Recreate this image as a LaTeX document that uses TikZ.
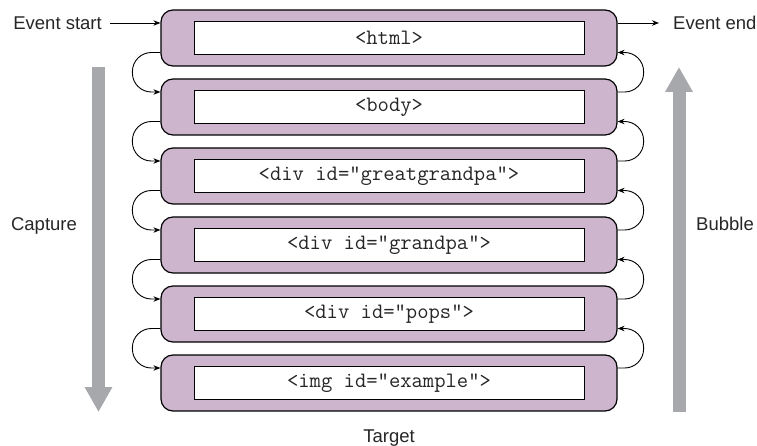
\documentclass[tikz,border=0pt]{standalone}
\usepackage{fontspec}
\setsansfont{Liberation Sans}
\usepackage{tikz}
\usetikzlibrary{arrows.meta, positioning, calc}

\definecolor{boxpurple}{RGB}{206,181,206}
\definecolor{flowgrey}{RGB}{166,168,171}

\begin{document}
\begin{tikzpicture}[x=1pt, y=-1pt, node distance=69pt,
	elem/.style={draw, line width=1.2pt, fill=boxpurple, rounded corners=12pt, minimum width=456pt, minimum height=56pt},
	tag/.style={draw, line width=1pt, fill=white, minimum width=390pt, minimum height=33pt, inner sep=0pt, text=black!85, font=\ttfamily\fontsize{22}{23}\selectfont},
	label/.style={inner sep=8pt, text=black!85, font=\sffamily\fontsize{18.5}{20}\selectfont},
	post/.style={->, line width=0.9pt, >={Stealth[length=7pt, width=5.5pt]}},
	flow/.style={-{Triangle[length=25pt, width=26pt]}, line width=13pt, draw=flowgrey}]

	\useasboundingbox (0,0) rectangle (757,446);

	\node [elem] (HTML) at (389,38) {};
	\node [elem] (BODY) [below of=HTML] {};
	\node [elem] (GGP) [below of=BODY] {};
	\node [elem] (GP) [below of=GGP] {};
	\node [elem] (POPS) [below of=GP] {};
	\node [elem] (IMG) [below of=POPS] {};

	\node [tag] (HTMLt) at (HTML) {<html>};
	\node [tag] (BODYt) at (BODY) {<body>};
	\node [tag] (GGPt) at (GGP) {<div id="greatgrandpa">};
	\node [tag] (GPt) at (GP) {<div id="grandpa">};
	\node [tag] (POPSt) at (POPS) {<div id="pops">};
	\node [tag] (IMGt) at (IMG) {<img id="example">};

	\node [label, anchor=east] (ES) at (110,23) {Event start};
	\node [label, anchor=west] (EE) at (665,23) {Event end};
	\node [label, anchor=base] (CAP) at (44,231) {Capture};
	\node [label, anchor=base] (BUB) at (725,231) {Bubble};
	\node [label, anchor=base] (TGT) at (389,442) {Target};

	\draw[post] (ES) -- ([yshift=15pt]HTML.west);
	\draw[post, shorten >=6pt] ([yshift=15pt]HTML.east) -- (EE);

	% capture, down the left side
	\draw[post, rounded corners=19pt] ([yshift=-14.5pt]HTML.west) -- ++(-28,0) |- ([yshift=15pt]BODY.west);
	\draw[post, rounded corners=19pt] ([yshift=-14.5pt]BODY.west) -- ++(-28,0) |- ([yshift=15pt]GGP.west);
	\draw[post, rounded corners=19pt] ([yshift=-14.5pt]GGP.west) -- ++(-28,0) |- ([yshift=15pt]GP.west);
	\draw[post, rounded corners=19pt] ([yshift=-14.5pt]GP.west) -- ++(-28,0) |- ([yshift=15pt]POPS.west);
	\draw[post, rounded corners=19pt] ([yshift=-14.5pt]POPS.west) -- ++(-28,0) |- ([yshift=15pt]IMG.west);

	% bubble, up the right side
	\draw[post, rounded corners=19pt] ([yshift=15pt]BODY.east) -- ++(26,0) |- ([yshift=-14.5pt]HTML.east);
	\draw[post, rounded corners=19pt] ([yshift=15pt]GGP.east) -- ++(26,0) |- ([yshift=-14.5pt]BODY.east);
	\draw[post, rounded corners=19pt] ([yshift=15pt]GP.east) -- ++(26,0) |- ([yshift=-14.5pt]GGP.east);
	\draw[post, rounded corners=19pt] ([yshift=15pt]POPS.east) -- ++(26,0) |- ([yshift=-14.5pt]GP.east);
	\draw[post, rounded corners=19pt] ([yshift=15pt]IMG.east) -- ++(26,0) |- ([yshift=-14.5pt]POPS.east);

	\coordinate (CapTop) at (98.5,67);
	\coordinate (CapBot) at (98.5,412);
	\coordinate (BubBot) at (679,412);
	\coordinate (BubTop) at (679,67);
	\draw[flow] (CapTop) -- (CapBot);
	\draw[flow] (BubBot) -- (BubTop);

\end{tikzpicture}
\end{document}
